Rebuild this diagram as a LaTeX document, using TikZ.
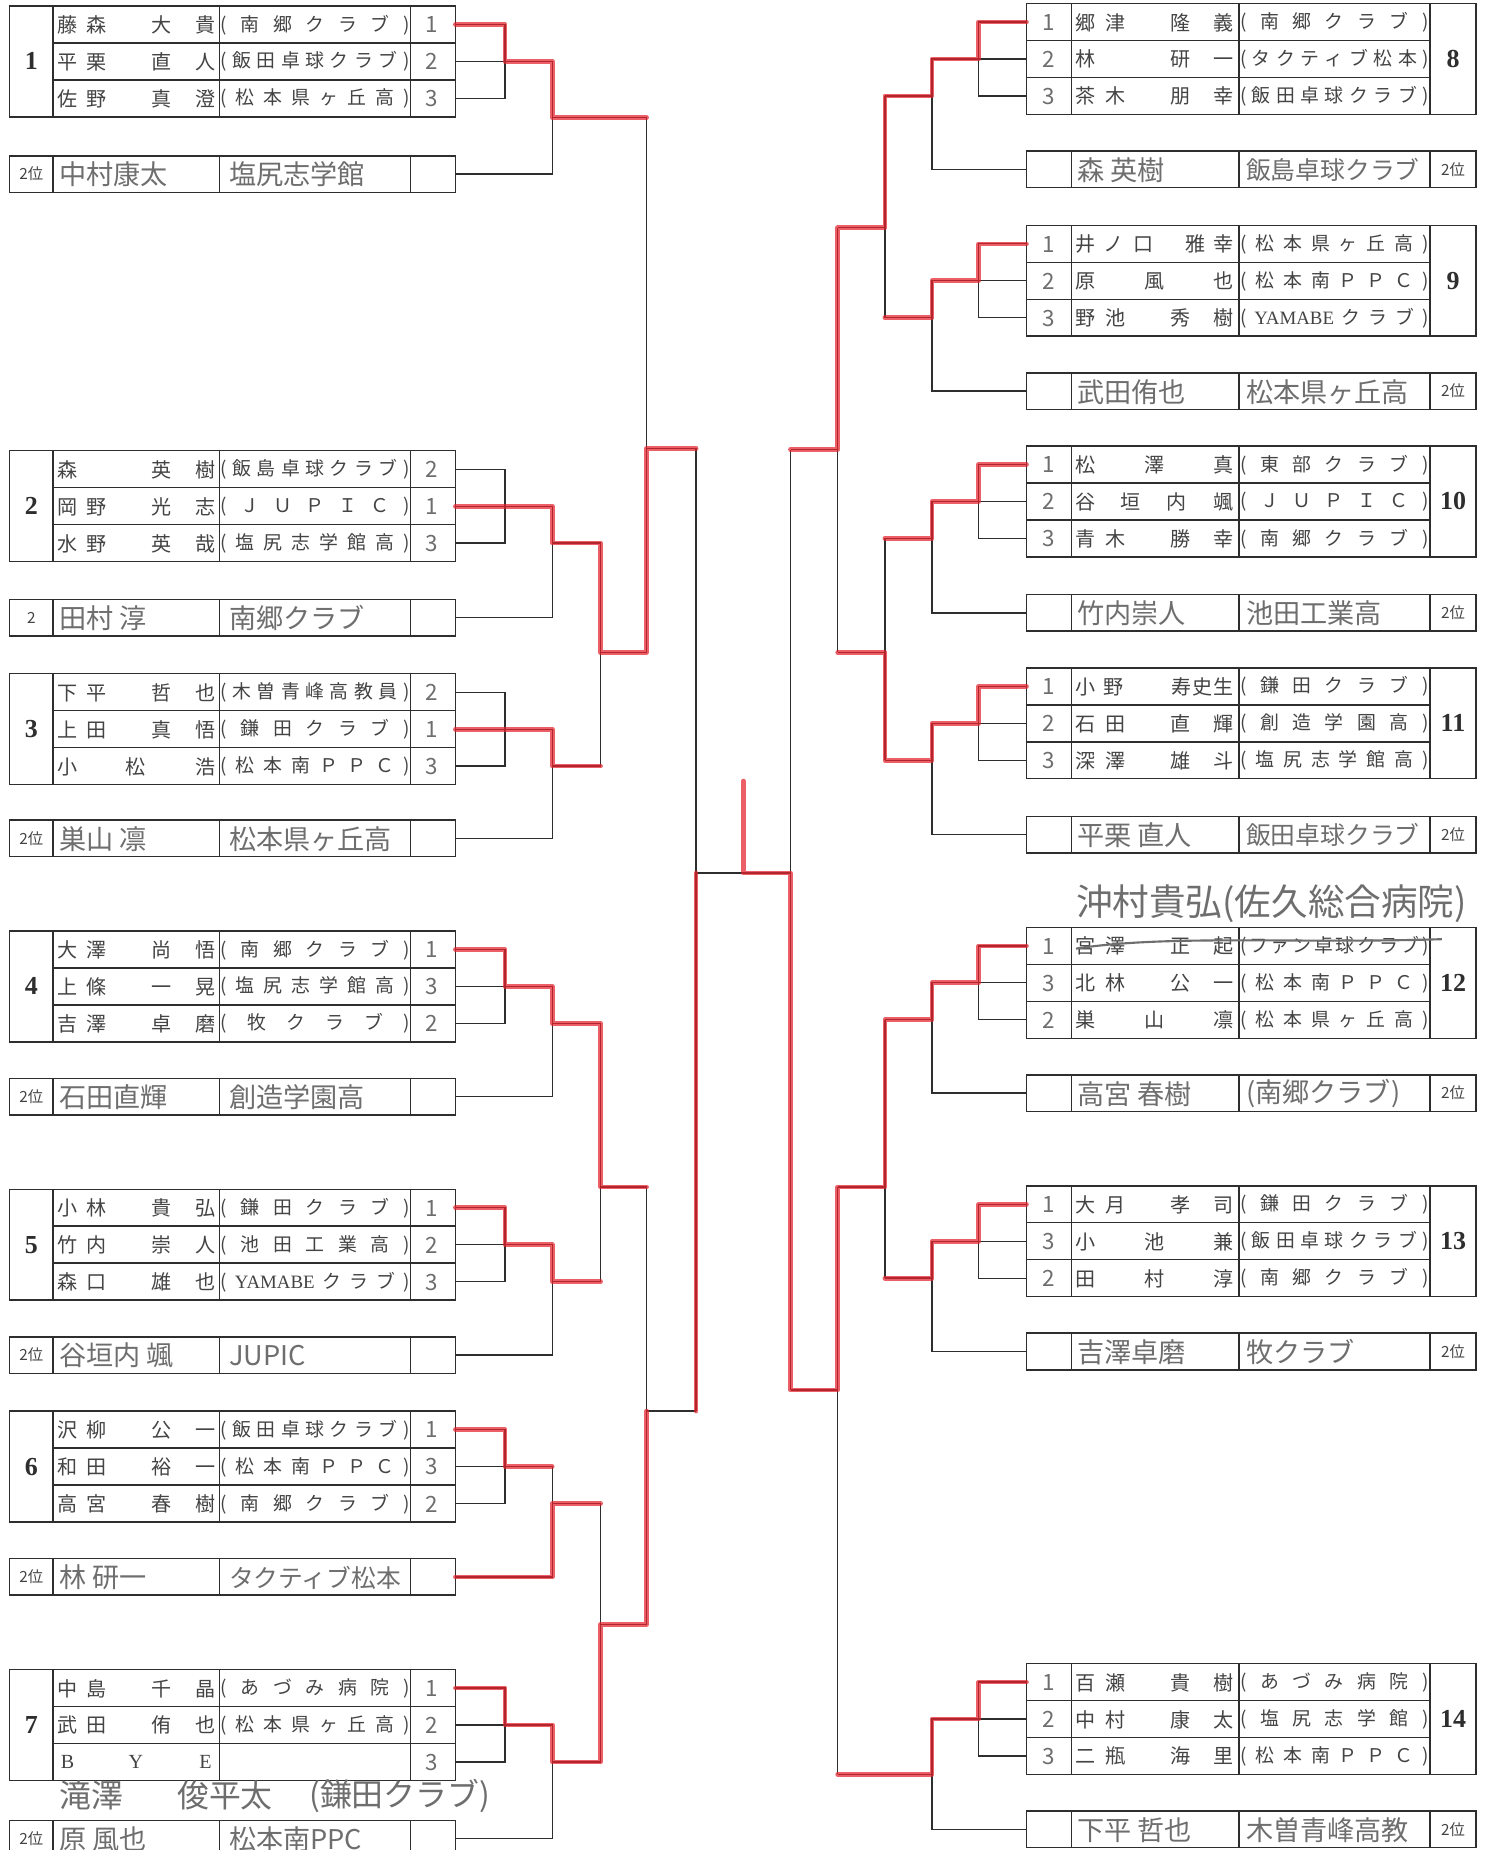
\documentclass[tikz,border=0pt]{standalone}
\usepackage{fontspec}
\setmainfont{Liberation Serif}
\newfontfamily\jp{Noto Sans CJK JP}
\newfontfamily\ser{Liberation Serif}
\definecolor{ink}{HTML}{2E2E2E}
\definecolor{prt}{HTML}{444444}
\definecolor{pencil}{HTML}{6E6E6E}
\definecolor{redp}{HTML}{E5222C}
\newcounter{nc}
\newcommand\cpos[2]{\rlap{\hspace*{#1pt}\makebox[0pt]{#2}}}
\newcommand\nABCD[4]{\makebox[141pt][l]{\cpos{12}{#1}\cpos{37}{#2}\cpos{92}{#3}\cpos{129}{#4}}}
\newcommand\nAMD[3]{\makebox[141pt][l]{\cpos{12}{#1}\cpos{70}{#2}\cpos{129}{#3}}}
\newcommand\nACD[3]{\makebox[141pt][l]{\cpos{12}{#1}\cpos{92}{#2}\cpos{129}{#3}}}
\let\spreadstop\relax
\def\spreadstopmark{\spreadstop}
\def\spreadA#1{\def\spreadtmp{#1}\ifx\spreadtmp\spreadstopmark\else#1\hfill\expandafter\spreadA\fi}
\newcommand\clubL[1]{\makebox[160pt]{(\hfill\spreadA#1\spreadstop)}}
\tikzset{
  every node/.append style={/utils/exec={\stepcounter{nc}},name=nd\arabic{nc}},
  tbl/.style={draw=ink,line width=1.3pt},
  brk/.style={draw=ink,line width=1.1pt},
  redpath/.style={draw=redp,line width=4pt,opacity=0.72,line join=round,line cap=round},
  strike/.style={draw=pencil,line width=1.8pt},
  nmtxt/.style={inner sep=0pt,text=prt,font=\jp\fontsize{17pt}{17pt}\selectfont},
  cltxt/.style={inner sep=0pt,text=prt,font=\jp\fontsize{16pt}{16pt}\selectfont},
  gnum/.style={inner sep=0pt,text=ink,font=\ser\bfseries\fontsize{22pt}{22pt}\selectfont},
  lab/.style={inner sep=0pt,text=prt,font=\jp\fontsize{13pt}{13pt}\selectfont},
  rk/.style={inner sep=0pt,text=pencil,font=\jp\fontsize{19pt}{19pt}\selectfont},
  hw/.style={inner sep=0pt,text=pencil,font=\jp\fontsize{23pt}{23pt}\selectfont},
  hws/.style={inner sep=0pt,text=pencil,font=\jp\fontsize{21pt}{21pt}\selectfont},
  hwb/.style={inner sep=0pt,text=pencil,font=\jp\fontsize{31pt}{31pt}\selectfont},
  hwm/.style={inner sep=0pt,text=pencil,font=\jp\fontsize{27pt}{27pt}\selectfont}
}
% ---------- left side ----------
\newcommand\LGbox[2]{%
  \draw[tbl] (8,#1) rectangle (386,{#1+94});
  \draw[tbl] (45,#1) -- (45,{#1+94}) (186,#1) -- (186,{#1+94}) (348,#1) -- (348,{#1+94})
     (45,{#1+31.33}) -- (386,{#1+31.33}) (45,{#1+62.67}) -- (386,{#1+62.67});
  \node[gnum] at (26.5,{#1+47}) {#2};}
\newcommand\LGrow[5]{%
  \node[nmtxt,anchor=west] at (45,{#1+16+31.33*(#2-1)}) {#3};
  \node[cltxt] at (267,{#1+16+31.33*(#2-1)}) {\clubL{#4}};
  \node[rk] at (366,{#1+16+31.33*(#2-1)}) {#5};}
\newcommand\LGsec[5]{%
  \draw[tbl] (8,#1) rectangle (386,{#1+31});
  \draw[tbl] (45,#1) -- (45,{#1+31}) (186,#1) -- (186,{#1+31}) (348,#1) -- (348,{#1+31});
  \node[lab] at (26.5,{#1+15.5}) {#2};
  \node[hw,anchor=west] at (50,{#1+16}) {#3};
  \node[#5,anchor=west] at (194,{#1+16}) {#4};}
\newcommand\LB[4]{%
  \draw[brk] (386,{#1+15.67}) -- (428,{#1+15.67}) -- (428,{#1+78.33}) -- (386,{#1+78.33});
  \draw[brk] (386,{#1+47}) -- (468,{#1+47}) -- (468,{#2+15.5}) -- (386,{#2+15.5});
  \draw[brk] (468,#3) -- (#4,#3);}
% ---------- right side ----------
\newcommand\RGbox[2]{%
  \draw[tbl] (870,#1) rectangle (1251,{#1+94});
  \draw[tbl] (908,#1) -- (908,{#1+94}) (1050,#1) -- (1050,{#1+94}) (1212,#1) -- (1212,{#1+94})
     (870,{#1+31.33}) -- (1212,{#1+31.33}) (870,{#1+62.67}) -- (1212,{#1+62.67});
  \node[gnum] at (1231.5,{#1+47}) {#2};}
\newcommand\RGrow[5]{%
  \node[rk] at (889,{#1+16+31.33*(#2-1)}) {#3};
  \node[nmtxt,anchor=west] at (908,{#1+16+31.33*(#2-1)}) {#4};
  \node[cltxt] at (1131,{#1+16+31.33*(#2-1)}) {\clubL{#5}};}
\newcommand\RGsec[4]{%
  \draw[tbl] (870,#1) rectangle (1251,{#1+31});
  \draw[tbl] (908,#1) -- (908,{#1+31}) (1050,#1) -- (1050,{#1+31}) (1212,#1) -- (1212,{#1+31});
  \node[lab] at (1231.5,{#1+15.5}) {2位};
  \node[hw,anchor=west] at (913,{#1+16}) {#2};
  \node[#4,anchor=west] at (1056,{#1+16}) {#3};}
\newcommand\RB[4]{%
  \draw[brk] (870,{#1+15.67}) -- (829.5,{#1+15.67}) -- (829.5,{#1+78.33}) -- (870,{#1+78.33});
  \draw[brk] (870,{#1+47}) -- (790,{#1+47}) -- (790,{#2+15.5}) -- (870,{#2+15.5});
  \draw[brk] (790,#3) -- (#4,#3);}

\begin{document}
\begin{tikzpicture}[x=1pt,y=-1pt]
\useasboundingbox[fill=white] (0,0) rectangle (1266,1568);

% ================= brackets (black) =================
\LB{5}{132}{99.75}{548}
\LB{382}{508}{460.3}{509}
\LB{571}{695}{649.3}{509}
\LB{789}{914}{867.3}{509}
\LB{1008}{1133}{1086.3}{509}
\LB{1196}{1321}{1274.3}{509}
\LB{1415}{1543}{1493.3}{509}
\draw[brk] (509,460.3) -- (509,649.3) (509,553) -- (548,553);
\draw[brk] (509,867.3) -- (509,1086.3) (509,1006) -- (548,1006);
\draw[brk] (509,1274.3) -- (509,1493.3) (509,1377) -- (548,1377);
\draw[brk] (548,99.75) -- (548,553) (548,380) -- (590,380);
\draw[brk] (548,1006) -- (548,1377) (548,1196) -- (590,1196);
\draw[brk] (590,380) -- (590,1196) (590,740) -- (670,740);

\RB{3}{128}{81.3}{750}
\RB{191}{316}{269.3}{750}
\RB{378}{504}{456.3}{750}
\RB{566}{692}{644.3}{750}
\RB{786}{911}{864.3}{750}
\RB{1005}{1130}{1083.3}{750}
\RB{1410}{1535}{1503.75}{710}
\draw[brk] (750,81.3) -- (750,269.3) (750,193) -- (710,193);
\draw[brk] (750,456.3) -- (750,644.3) (750,553) -- (710,553);
\draw[brk] (750,864.3) -- (750,1083.3) (750,1006) -- (710,1006);
\draw[brk] (710,193) -- (710,553) (710,381) -- (670,381);
\draw[brk] (710,1006) -- (710,1503.75) (710,1178) -- (670,1178);
\draw[brk] (670,381) -- (670,1178);

% ================= tables left =================
\LGbox{5}{1}
\LGrow{5}{1}{\nABCD{藤}{森}{大}{貴}}{南郷クラブ}{1}
\LGrow{5}{2}{\nABCD{平}{栗}{直}{人}}{飯田卓球クラブ}{2}
\LGrow{5}{3}{\nABCD{佐}{野}{真}{澄}}{松本県ヶ丘高}{3}
\LGsec{132}{2位}{中村康太}{塩尻志学館}{hw}

\LGbox{382}{2}
\LGrow{382}{1}{\nACD{森}{英}{樹}}{飯島卓球クラブ}{2}
\LGrow{382}{2}{\nABCD{岡}{野}{光}{志}}{ＪＵＰＩＣ}{1}
\LGrow{382}{3}{\nABCD{水}{野}{英}{哉}}{塩尻志学館高}{3}
\LGsec{508}{2}{田村 淳}{南郷クラブ}{hw}

\LGbox{571}{3}
\LGrow{571}{1}{\nABCD{下}{平}{哲}{也}}{木曽青峰高教員}{2}
\LGrow{571}{2}{\nABCD{上}{田}{真}{悟}}{鎌田クラブ}{1}
\LGrow{571}{3}{\nAMD{小}{松}{浩}}{松本南ＰＰＣ}{3}
\LGsec{695}{2位}{巣山 凛}{松本県ヶ丘高}{hw}

\LGbox{789}{4}
\LGrow{789}{1}{\nABCD{大}{澤}{尚}{悟}}{南郷クラブ}{1}
\LGrow{789}{2}{\nABCD{上}{條}{一}{晃}}{塩尻志学館高}{3}
\LGrow{789}{3}{\nABCD{吉}{澤}{卓}{磨}}{牧クラブ}{2}
\LGsec{914}{2位}{石田直輝}{創造学園高}{hw}

\LGbox{1008}{5}
\LGrow{1008}{1}{\nABCD{小}{林}{貴}{弘}}{鎌田クラブ}{1}
\LGrow{1008}{2}{\nABCD{竹}{内}{崇}{人}}{池田工業高}{2}
\LGrow{1008}{3}{\nABCD{森}{口}{雄}{也}}{{{\ser YAMABE}}クラブ}{3}
\LGsec{1133}{2位}{谷垣内 颯}{JUPIC}{hw}

\LGbox{1196}{6}
\LGrow{1196}{1}{\nABCD{沢}{柳}{公}{一}}{飯田卓球クラブ}{1}
\LGrow{1196}{2}{\nABCD{和}{田}{裕}{一}}{松本南ＰＰＣ}{3}
\LGrow{1196}{3}{\nABCD{高}{宮}{春}{樹}}{南郷クラブ}{2}
\LGsec{1321}{2位}{林 研一}{タクティブ松本}{hws}

\LGbox{1415}{7}
\LGrow{1415}{1}{\nABCD{中}{島}{千}{晶}}{あづみ病院}{1}
\LGrow{1415}{2}{\nABCD{武}{田}{侑}{也}}{松本県ヶ丘高}{2}
\node[nmtxt,anchor=west] at (45,{1415+16+62.67}) {\makebox[141pt][l]{\cpos{12}{\ser B}\cpos{70}{\ser Y}\cpos{129}{\ser E}}};
\node[rk] at (366,{1415+16+62.67}) {3};
\node[hwm,anchor=west] at (50,1522) {滝澤};
\node[hwm,anchor=west] at (150,1522) {俊平太};
\node[hwm,anchor=west] at (262,1522) {(鎌田クラブ)};
\LGsec{1543}{2位}{原 風也}{松本南PPC}{hw}

% ================= tables right =================
\RGbox{3}{8}
\RGrow{3}{1}{1}{\nABCD{郷}{津}{隆}{義}}{南郷クラブ}
\RGrow{3}{2}{2}{\nACD{林}{研}{一}}{タクティブ松本}
\RGrow{3}{3}{3}{\nABCD{茶}{木}{朋}{幸}}{飯田卓球クラブ}
\RGsec{128}{森 英樹}{飯島卓球クラブ}{hws}

\RGbox{191}{9}
\RGrow{191}{1}{1}{\makebox[141pt][l]{\cpos{12}{井}\cpos{36}{ノ}\cpos{61}{口}\cpos{105}{雅}\cpos{129}{幸}}}{松本県ヶ丘高}
\RGrow{191}{2}{2}{\nAMD{原}{風}{也}}{松本南ＰＰＣ}
\RGrow{191}{3}{3}{\nABCD{野}{池}{秀}{樹}}{{{\ser YAMABE}}クラブ}
\RGsec{316}{武田侑也}{松本県ヶ丘高}{hw}

\RGbox{378}{10}
\RGrow{378}{1}{1}{\nAMD{松}{澤}{真}}{東部クラブ}
\RGrow{378}{2}{2}{\makebox[141pt][l]{\cpos{12}{谷}\cpos{50}{垣}\cpos{89}{内}\cpos{129}{颯}}}{ＪＵＰＩＣ}
\RGrow{378}{3}{3}{\nABCD{青}{木}{勝}{幸}}{南郷クラブ}
\RGsec{504}{竹内崇人}{池田工業高}{hw}

\RGbox{566}{11}
\RGrow{566}{1}{1}{\makebox[141pt][l]{\cpos{12}{小}\cpos{36}{野}\cpos{93}{寿}\cpos{111}{史}\cpos{129}{生}}}{鎌田クラブ}
\RGrow{566}{2}{2}{\nABCD{石}{田}{直}{輝}}{創造学園高}
\RGrow{566}{3}{3}{\nABCD{深}{澤}{雄}{斗}}{塩尻志学館高}
\RGsec{692}{平栗 直人}{飯田卓球クラブ}{hws}

\node[hwb,anchor=west] at (912,766) {沖村貴弘(佐久総合病院)};
\RGbox{786}{12}
\RGrow{786}{1}{1}{\nABCD{宮}{澤}{正}{起}}{ファン卓球クラブ}
\RGrow{786}{2}{3}{\nABCD{北}{林}{公}{一}}{松本南ＰＰＣ}
\RGrow{786}{3}{2}{\nAMD{巣}{山}{凛}}{松本県ヶ丘高}
\draw[strike] (912,804) .. controls (990,792) and (1100,800) .. (1222,796);
\RGsec{911}{高宮 春樹}{(南郷クラブ)}{hw}

\RGbox{1005}{13}
\RGrow{1005}{1}{1}{\nABCD{大}{月}{孝}{司}}{鎌田クラブ}
\RGrow{1005}{2}{3}{\nAMD{小}{池}{兼}}{飯田卓球クラブ}
\RGrow{1005}{3}{2}{\nAMD{田}{村}{淳}}{南郷クラブ}
\RGsec{1130}{吉澤卓磨}{牧クラブ}{hw}

\RGbox{1410}{14}
\RGrow{1410}{1}{1}{\nABCD{百}{瀬}{貴}{樹}}{あづみ病院}
\RGrow{1410}{2}{2}{\nABCD{中}{村}{康}{太}}{塩尻志学館}
\RGrow{1410}{3}{3}{\nABCD{二}{瓶}{海}{里}}{松本南ＰＰＣ}
\RGsec{1535}{下平 哲也}{木曽青峰高教}{hw}

% ================= red pencil (winners) =================
\draw[redpath] (386,20.7) -- (428,20.7) -- (428,52) -- (468,52) -- (468,99.75) -- (548,99.75);
\draw[redpath] (386,429) -- (468,429) -- (468,460.3) -- (509,460.3) -- (509,553) -- (548,553) -- (548,380) -- (590,380);
\draw[redpath] (386,618) -- (468,618) -- (468,649.3) -- (509,649.3);
\draw[redpath] (386,804.7) -- (428,804.7) -- (428,836) -- (468,836) -- (468,867.3) -- (509,867.3) -- (509,1006) -- (548,1006);
\draw[redpath] (386,1023.7) -- (428,1023.7) -- (428,1055) -- (468,1055) -- (468,1086.3) -- (509,1086.3);
\draw[redpath] (386,1211.7) -- (428,1211.7) -- (428,1243) -- (468,1243);
\draw[redpath] (386,1336.5) -- (468,1336.5) -- (468,1274.3) -- (509,1274.3);
\draw[redpath] (386,1430.7) -- (428,1430.7) -- (428,1462) -- (468,1462) -- (468,1493.3) -- (509,1493.3) -- (509,1377) -- (548,1377) -- (548,1196);
\draw[redpath] (590,1196) -- (590,740);
\draw[redpath] (630,662) -- (630,740) -- (670,740) -- (670,1178) -- (710,1178) -- (710,1006) -- (750,1006) -- (750,864.3) -- (790,864.3) -- (790,833) -- (829.5,833) -- (829.5,801.7) -- (870,801.7);
\draw[redpath] (870,18.7) -- (829.5,18.7) -- (829.5,50) -- (790,50) -- (790,81.3) -- (750,81.3) -- (750,193) -- (710,193) -- (710,381) -- (670,381);
\draw[redpath] (870,206.7) -- (829.5,206.7) -- (829.5,238) -- (790,238) -- (790,269.3) -- (750,269.3);
\draw[redpath] (870,393.7) -- (829.5,393.7) -- (829.5,425) -- (790,425) -- (790,456.3) -- (750,456.3);
\draw[redpath] (870,581.7) -- (829.5,581.7) -- (829.5,613) -- (790,613) -- (790,644.3) -- (750,644.3) -- (750,553) -- (710,553);
\draw[redpath] (870,1020.7) -- (829.5,1020.7) -- (829.5,1052) -- (790,1052) -- (790,1083.3) -- (750,1083.3);
\draw[redpath] (870,1425.7) -- (829.5,1425.7) -- (829.5,1457) -- (790,1457) -- (790,1503.75) -- (710,1503.75);
\end{tikzpicture}
\end{document}
